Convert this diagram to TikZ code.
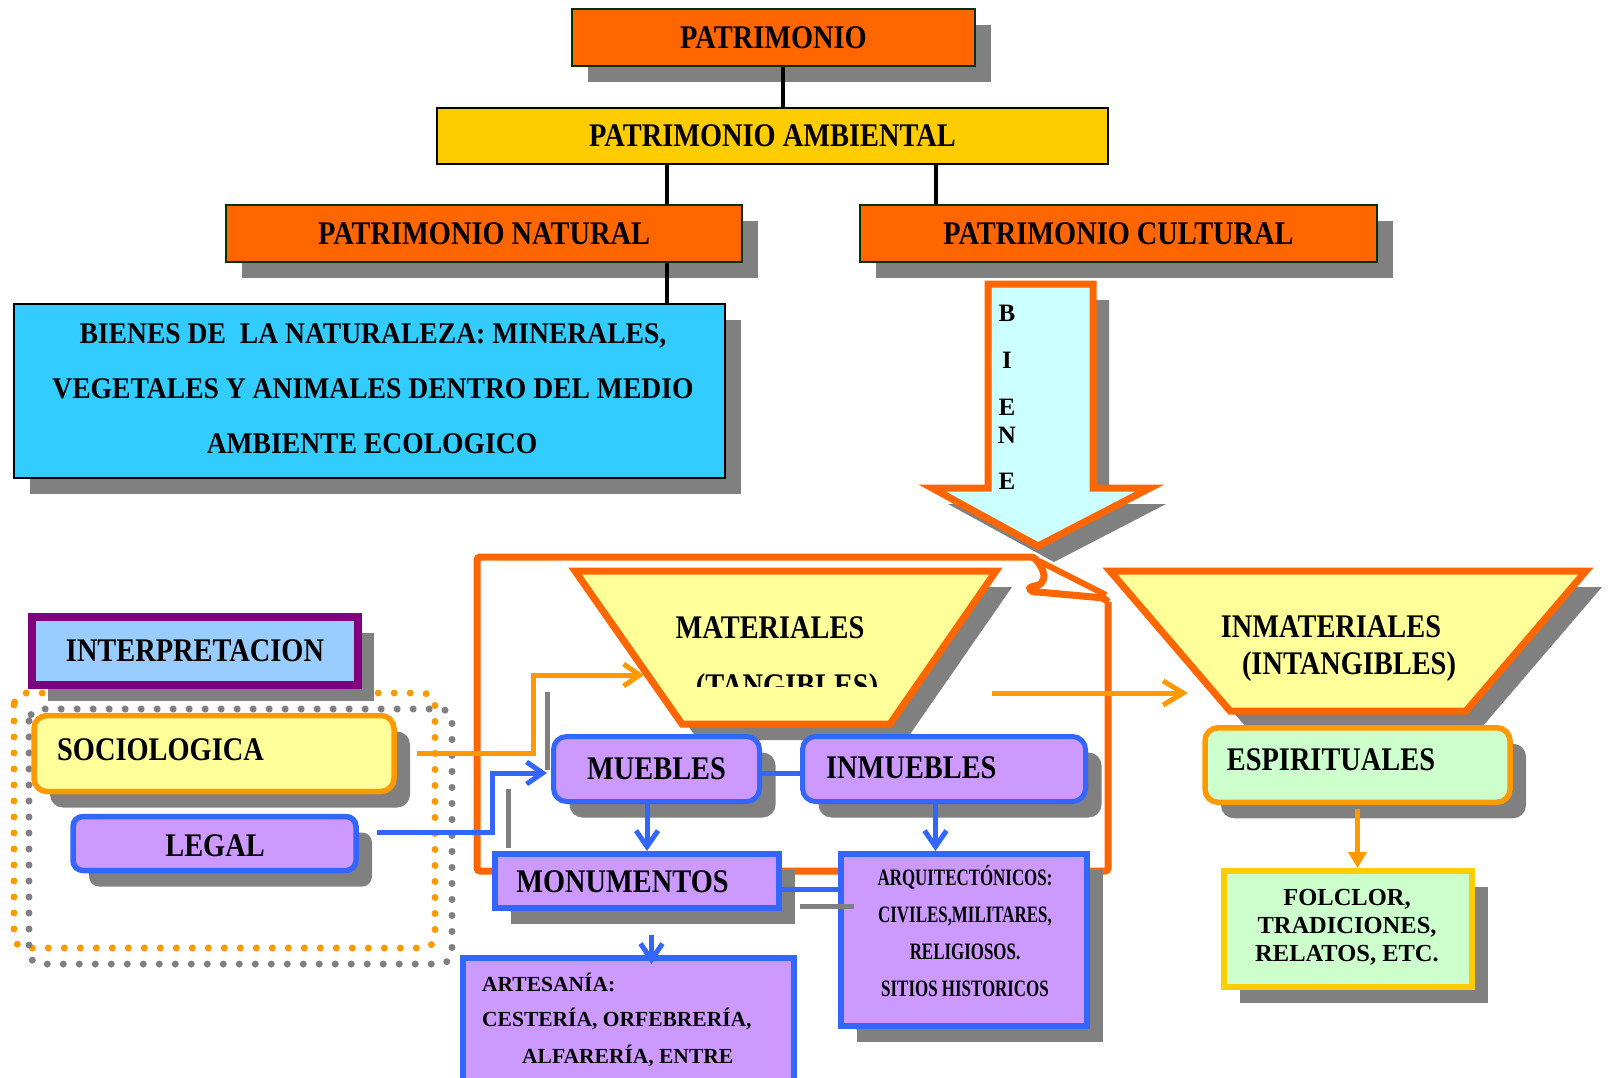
\documentclass[tikz,border=0pt]{standalone}
\usepackage{fontspec}
\setmainfont{Liberation Serif}
\newfontfamily\condb{Liberation Serif}[FakeStretch=0.86]
\newfontfamily\condc{Liberation Serif}[FakeStretch=0.92]
\newfontfamily\condd{Liberation Serif}[FakeStretch=0.72]
\usetikzlibrary{shadows,arrows.meta}
\definecolor{orng}{HTML}{FF6600}
\definecolor{orng2}{HTML}{FF9900}
\definecolor{gold}{HTML}{FFCC00}
\definecolor{cyanb}{HTML}{33CCFF}
\definecolor{lcyan}{HTML}{CCFFFF}
\definecolor{lyel}{HTML}{FFFF99}
\definecolor{lpurp}{HTML}{CC99FF}
\definecolor{bluebd}{HTML}{3366FF}
\definecolor{lblue}{HTML}{99CCFF}
\definecolor{purpbd}{HTML}{800080}
\definecolor{lgreen}{HTML}{CCFFCC}
\definecolor{shgray}{HTML}{808080}
\definecolor{dkgreen}{HTML}{003300}
\begin{document}
\begin{tikzpicture}[x=1pt,y=-1pt,
  shd/.style={drop shadow={shadow xshift=16pt,shadow yshift=-16pt,fill=shgray,opacity=1}},
  hd/.style={font=\condb\bfseries\fontsize{33}{36}\selectfont},
  bx/.style={inner sep=0pt},
  lab/.style={inner sep=0pt},
  rbox/.style={bx, shd, rounded corners=13pt},
  blk/.style={line width=4.5pt},
  bconn/.style={draw=bluebd, line width=5pt},
  oconn/.style={draw=orng2, line width=5pt},
  barb/.style={-{Straight Barb[length=16pt,width=22pt]}},
  dotline/.style={line width=7pt, line cap=round, dash pattern=on 0pt off 16pt, rounded corners=12pt},
  arq/.style={lab, font=\condd\bfseries\fontsize{23.5}{26}\selectfont, anchor=base},
  art/.style={lab, font=\bfseries\fontsize{21.5}{24}\selectfont, anchor=base west},
  folk/.style={lab, font=\bfseries\fontsize{24.5}{27}\selectfont, anchor=base},
  bienes/.style={lab, font=\condc\bfseries\fontsize{30}{33}\selectfont, anchor=base},
  letter/.style={lab, font=\bfseries\fontsize{25}{27}\selectfont},
]
\useasboundingbox (0,0) rectangle (1609,1077);
\fill[white] (0,0) rectangle (1609,1077);

% ---------- top hierarchy
\node[bx, shd, fill=orng, draw=dkgreen, line width=2pt, minimum width=403pt, minimum height=57pt, hd] (patr) at (773.5,37.5) {PATRIMONIO};
\node[bx, fill=gold, draw=black, line width=2pt, minimum width=671pt, minimum height=56pt, hd] (amb) at (772.5,136) {PATRIMONIO AMBIENTAL};
\node[bx, shd, fill=orng, draw=dkgreen, line width=2pt, minimum width=516pt, minimum height=57pt, hd] (nat) at (484,233.5) {PATRIMONIO NATURAL};
\node[bx, shd, fill=orng, draw=dkgreen, line width=2pt, minimum width=517pt, minimum height=57pt, hd] (cul) at (1118.5,233.5) {PATRIMONIO CULTURAL};
\node[bx, shd, fill=cyanb, draw=black, line width=2.5pt, minimum width=711pt, minimum height=174pt] (bien) at (369.5,391) {};
\node[bienes] (bien1) at (373,343) {BIENES DE\ \ LA NATURALEZA: MINERALES,};
\node[bienes] (bien2) at (373,398) {VEGETALES Y ANIMALES DENTRO DEL MEDIO};
\node[bienes] (bien3) at (372,453) {AMBIENTE ECOLOGICO};

\draw[blk] ([xshift=9.5pt]patr.south) -- ([xshift=9.5pt]patr.south |- amb.north);
\draw[blk] ([xshift=183pt]nat.north) -- ([xshift=183pt]nat.north |- amb.south);
\draw[blk] ([xshift=-182.5pt]cul.north) -- ([xshift=-182.5pt]cul.north |- amb.south);
\draw[blk] ([xshift=183pt]nat.south) -- ([xshift=183pt]nat.south |- bien.north);

% ---------- dotted frames
\draw[dotline, orng2] (14,693) rectangle (435,948);
\draw[dotline, shgray] (29,709) rectangle (452,964);

% ---------- interpretacion
\node[bx, shd, fill=lblue, draw=purpbd, line width=8pt, minimum width=326pt, minimum height=68pt, hd] (interp) at (195,651) {INTERPRETACION};

% ---------- BIENE arrow
\fill[shgray] (1004,300) -- (1109,300) -- (1109,504) -- (1166,504) -- (1054,562) -- (948,504) -- (1004,504) -- cycle;
\draw[orng, line width=7pt, fill=lcyan] (988,284) -- (1093,284) -- (1093,488) -- (1150,488) -- (1038,546) -- (932,488) -- (988,488) -- cycle;
\node[letter] (lb1) at (1007,313) {B};
\node[letter] (lb2) at (1007,360) {I};
\node[letter] (lb3) at (1007,407) {E};
\node[letter] (lb4) at (1007,435) {N};
\node[letter] (lb5) at (1007,481) {E};

% ---------- orange frame
\draw[orng, line width=7pt, rounded corners=3pt] (1108,602) -- (1108,871) -- (477,871) -- (477,557) -- (1034,557) -- (1040,565) .. controls (1046,576) and (1044,584) .. (1034,586) .. controls (1028,588) and (1031,592) .. (1038,592) -- (1104,598) -- (1108,602);
\draw[orng, line width=6pt] (1039,561) -- (1106,595);

% ---------- trapezoids
\coordinate (m1) at (575,571); \coordinate (m2) at (996,571);
\coordinate (m3) at (890,724); \coordinate (m4) at (682,724);
\fill[shgray] ([shift={(16,16)}]m1) -- ([shift={(16,16)}]m2) -- ([shift={(16,16)}]m3) -- ([shift={(16,16)}]m4) -- cycle;
\draw[orng, line width=7pt, fill=lyel] (m1) -- (m2) -- (m3) -- (m4) -- cycle;
\node[lab, hd] (matt) at (770,628) {MATERIALES};
\begin{scope}
\clip (600,600) rectangle (1000,686);
\node[lab, hd, anchor=base] (tang) at (787,696) {(TANGIBLES)};
\end{scope}

\coordinate (n1) at (1110,571); \coordinate (n2) at (1586,571);
\coordinate (n3) at (1466,711); \coordinate (n4) at (1230,711);
\fill[shgray] ([shift={(16,16)}]n1) -- ([shift={(16,16)}]n2) -- ([shift={(16,16)}]n3) -- ([shift={(16,16)}]n4) -- cycle;
\draw[orng, line width=7pt, fill=lyel] (n1) -- (n2) -- (n3) -- (n4) -- cycle;
\node[lab, hd] (inmt) at (1331,627) {INMATERIALES};
\node[lab, hd, anchor=base] (intg) at (1349,674) {(INTANGIBLES)};

% ---------- left boxes
\node[rbox, fill=lyel, draw=orng2, line width=5.5pt, minimum width=360pt, minimum height=76pt] (soc) at (214,753.5) {};
\node[lab, hd, anchor=west] (soct) at (57,750) {SOCIOLOGICA};
\node[bx, shd, rounded corners=10pt, fill=lpurp, draw=bluebd, line width=5.5pt, minimum width=283pt, minimum height=54pt] (legal) at (214.5,843.5) {};
\node[lab, hd] (legalt) at (215,846) {LEGAL};

% ---------- middle boxes
\node[rbox, fill=lpurp, draw=bluebd, line width=5pt, minimum width=206pt, minimum height=65pt, hd] (mueb) at (656.5,769) {MUEBLES};
\node[rbox, fill=lpurp, draw=bluebd, line width=5pt, minimum width=283pt, minimum height=65pt] (inmueb) at (944,769) {};
\node[lab, hd, anchor=west] (inmuebt) at (826,768) {INMUEBLES};
\node[bx, shd, fill=lpurp, draw=bluebd, line width=6pt, minimum width=284pt, minimum height=54pt] (monum) at (637,881) {};
\node[lab, hd] (monumt) at (622.5,882) {MONUMENTOS};
\node[bx, shd, fill=lpurp, draw=bluebd, line width=6pt, minimum width=246pt, minimum height=172pt] (arqui) at (964,940) {};
\node[arq] (aq1) at (965,885) {ARQUITECTÓNICOS:};
\node[arq] (aq2) at (965,922) {CIVILES,MILITARES,};
\node[arq] (aq3) at (965,959) {RELIGIOSOS.};
\node[arq] (aq4) at (965,996) {SITIOS HISTORICOS};
\node[bx, fill=lpurp, draw=bluebd, line width=6pt, minimum width=331pt, minimum height=152pt] (artes) at (628.5,1034) {};
\node[art] (ar1) at (482,991) {ARTESANÍA:};
\node[art] (ar2) at (482,1026.5) {CESTERÍA, ORFEBRERÍA,};
\node[art] (ar3) at (522,1063) {ALFARERÍA, ENTRE};

% ---------- right boxes
\node[rbox, fill=lgreen, draw=orng2, line width=5.5pt, minimum width=305pt, minimum height=74.5pt] (esp) at (1357.5,765) {};
\node[lab, hd] (espt) at (1331,760) {ESPIRITUALES};
\node[bx, shd, fill=lgreen, draw=gold, line width=6pt, minimum width=248pt, minimum height=116pt] (folc) at (1348,929) {};
\node[folk] (fo1) at (1347,905) {FOLCLOR,};
\node[folk] (fo2) at (1347,933) {TRADICIONES,};
\node[folk] (fo3) at (1347,961) {RELATOS, ETC.};

% ---------- connector shadows
\draw[shgray, line width=5pt] (547,692) -- (547,770);
\draw[shgray, line width=5pt] (508,789) -- (508,848);
\draw[shgray, line width=5pt] (800,906) -- (854,906);

% ---------- connectors
\coordinate (mattip) at (644,675);
\draw[oconn, barb] ([xshift=20pt]soc.east) -- ++(117,0) |- (mattip);
\draw[bconn, barb] ([xshift=18pt,yshift=11.5pt]legal.east) -- ++(116,0) |- ([xshift=-4pt,yshift=-4pt]mueb.west);
\draw[bconn] ([yshift=-4pt]mueb.east) -- ([yshift=-4pt]inmueb.west);
\draw[bconn, barb] ([xshift=-9.5pt]mueb.south) -- ([xshift=-9.5pt]mueb.south |- monum.north);
\draw[bconn, barb] ([xshift=-8.5pt]inmueb.south) -- ([xshift=-8.5pt]inmueb.south |- arqui.north);
\draw[bconn] ([yshift=-8pt]monum.east) -- ([yshift=-8pt]monum.east -| arqui.west);
\draw[bconn, barb, shorten >=-9pt] ([xshift=14.5pt,yshift=-24pt]monum.south) -- ([xshift=14.5pt]monum.south |- artes.north);
\draw[oconn, -{Triangle[length=16pt,width=18pt]}] ([yshift=-4pt]esp.south) -- (esp.south |- folc.north);
\coordinate (oastart) at (992,693);
\coordinate (inmattip) at (1188,693);
\draw[oconn, -{Straight Barb[length=20pt,width=24pt]}] (oastart) -- (inmattip);
\end{tikzpicture}
\end{document}
